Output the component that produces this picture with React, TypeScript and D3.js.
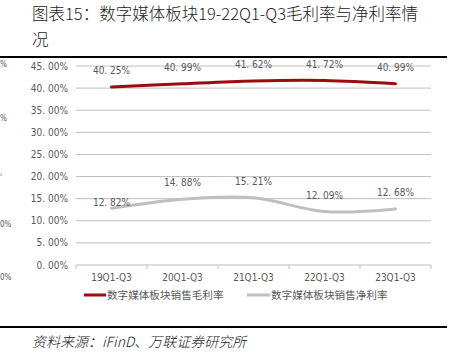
import React from "react";
import * as d3 from "d3";

const categories = ["19Q1-Q3", "20Q1-Q3", "21Q1-Q3", "22Q1-Q3", "23Q1-Q3"];
const grossMargin = [40.25, 40.99, 41.62, 41.72, 40.99];
const netMargin = [12.82, 14.88, 15.21, 12.09, 12.68];
const yTicks = [0, 5, 10, 15, 20, 25, 30, 35, 40, 45];
const seriesNames = ["数字媒体板块销售毛利率", "数字媒体板块销售净利率"];
const titleLine1 = "图表15：数字媒体板块19-22Q1-Q3毛利率与净利率情";
const titleLine2 = "况";
const sourceText = "资料来源：iFinD、万联证券研究所";
const ghostLabels = ["%", "%", ",", "0%", "0%"];

const W = 457, H = 357;
const plot = { left: 76, right: 431, top: 66, bottom: 265 };
const RED = "#9E0B0F";
const GRAY = "#BFBFBF";
const TXT = "#595959";
const NUMFONT = "'DejaVu Sans Condensed', 'DejaVu Sans', sans-serif";
const CJK = "'Noto Sans CJK SC', sans-serif";

export default function App() {
  const x = d3.scaleBand().domain(categories).range([plot.left, plot.right]);
  const y = d3.scaleLinear().domain([0, 45]).range([plot.bottom, plot.top]);
  const cx = (c: string) => (x(c) as number) + x.bandwidth() / 2;
  const line = d3
    .line<number>()
    .x((_, i) => cx(categories[i]))
    .y((d) => y(d))
    .curve(d3.curveCardinal.tension(0));
  const series = [
    { values: grossMargin, color: RED },
    { values: netMargin, color: GRAY },
  ];
  const boundaries = categories.map((c) => (x(c) as number) + x.bandwidth());
  const ghostYs = [64, 118, 172, 224, 277];

  return (
    <svg
      width={W}
      height={H}
      style={{ position: "absolute", left: 0, top: 0, background: "#fff" }}
    >
      <text x={32} y={20} fontSize={16.5} fontWeight={300} fontFamily={CJK} fill="#222">
        {titleLine1}
      </text>
      <text x={32} y={46} fontSize={16.5} fontWeight={300} fontFamily={CJK} fill="#222">
        {titleLine2}
      </text>
      <line x1={0} x2={447} y1={57} y2={57} stroke="#000" strokeWidth={2} />

      {ghostLabels.map((g, i) => (
        <text key={i} x={0} y={ghostYs[i] + 3} fontSize={8} fill={TXT} fontFamily={NUMFONT}>
          {g}
        </text>
      ))}

      {yTicks.map((t) => (
        <g key={t}>
          <line x1={plot.left} x2={plot.right} y1={y(t)} y2={y(t)} stroke="#BDBDBD" strokeWidth={1} />
          <text
            x={68}
            y={y(t) + 3.5}
            textAnchor="end"
            fontSize={10}
            fill={TXT}
            fontFamily={NUMFONT}
          >
            {t.toFixed(2).replace(".", ". ") + "%"}
          </text>
        </g>
      ))}
      <line x1={plot.left} x2={plot.left} y1={plot.bottom} y2={plot.bottom + 4} stroke="#BDBDBD" />
      {boundaries.map((b, i) => (
        <line key={i} x1={b} x2={b} y1={plot.bottom} y2={plot.bottom + 4} stroke="#BDBDBD" />
      ))}
      {categories.map((c) => (
        <text
          key={c}
          x={cx(c)}
          y={plot.bottom + 16}
          textAnchor="middle"
          fontSize={10}
          fill={TXT}
          fontFamily={NUMFONT}
        >
          {c}
        </text>
      ))}

      {series.map((s, si) => (
        <path
          key={si}
          d={line(s.values) || ""}
          fill="none"
          stroke={s.color}
          strokeWidth={3}
          strokeLinecap="round"
        />
      ))}
      {series.map((s, si) =>
        s.values.map((v, i) => (
          <text
            key={si + "-" + i}
            x={cx(categories[i])}
            y={y(v) - (si === 1 && i === 0 ? 2 : 13)}
            textAnchor="middle"
            fontSize={10}
            fill={TXT}
            fontFamily={NUMFONT}
          >
            {v.toFixed(2).replace(".", ". ") + "%"}
          </text>
        ))
      )}

      {/* legend */}
      <line x1={84} x2={106} y1={295} y2={295} stroke={RED} strokeWidth={3} />
      <text x={107} y={299} fontSize={10.6} fill={TXT} fontFamily={CJK}>
        {seriesNames[0]}
      </text>
      <line x1={247} x2={270} y1={295} y2={295} stroke={GRAY} strokeWidth={3} />
      <text x={271} y={299} fontSize={10.6} fill={TXT} fontFamily={CJK}>
        {seriesNames[1]}
      </text>

      <line x1={0} x2={447} y1={327} y2={327} stroke="#000" strokeWidth={2} />
      <text
        x={32}
        y={347}
        fontSize={14}
        fontStyle="italic"
        fontWeight={300}
        fill="#222"
        fontFamily={CJK}
      >
        {sourceText}
      </text>
    </svg>
  );
}
